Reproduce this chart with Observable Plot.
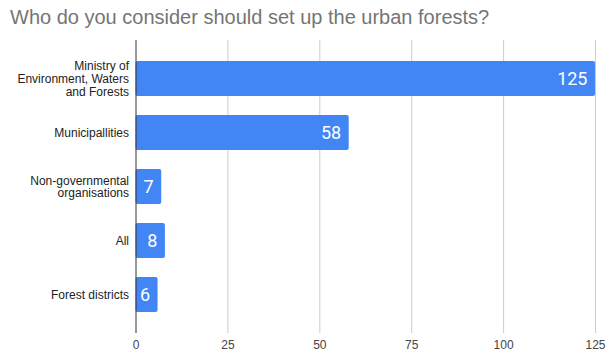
<!DOCTYPE html>
<html><head><meta charset="utf-8">
<script src="https://cdn.jsdelivr.net/npm/d3@7"></script>
<script src="https://cdn.jsdelivr.net/npm/@observablehq/plot@0.6"></script>
<style>
body{margin:0;background:#fff;}
#title{height:34px;box-sizing:border-box;padding:6px 0 0 10px;font-family:"Liberation Sans",Arial,sans-serif;font-size:20px;color:#757575;white-space:nowrap;}
</style></head><body>
<div id="title">Who do you consider should set up the urban forests?</div>
<div id="chart"></div>
<script>
const categories = ["Ministry of\nEnvironment, Waters\nand Forests", "Municipallities", "Non-governmental\norganisations", "All", "Forest districts"];
const values = [125, 58, 7, 8, 6];
const xTicks = [0, 25, 50, 75, 100, 125];

const data = categories.map((c, i) => ({category: c, value: values[i]}));

const chart = Plot.plot({
  width: 606,
  height: 320,
  marginTop: 6,
  marginBottom: 21,
  marginLeft: 135.5,
  marginRight: 11,
  style: {fontFamily: "'Liberation Sans', Arial, sans-serif", fontSize: "12px", color: "#222", background: "#fff"},
  x: {domain: [0, 125], ticks: xTicks, label: null, tickSize: 0, tickPadding: 8, grid: false},
  y: {domain: categories, padding: 0.345, label: null, tickSize: 0, tickPadding: 7},
  marks: [
    Plot.ruleX(xTicks.filter(d => d > 0), {stroke: "#cccccc", strokeWidth: 1}),
    Plot.barX(data, {x: "value", y: "category", fill: "#4285F4", rx: 2}),
    Plot.ruleX([0], {stroke: "#333", strokeWidth: 1}),
    Plot.text(data, {x: "value", y: "category", text: d => String(d.value), textAnchor: "end", dx: -8, fill: "white", fontSize: 18, fontFamily: "Roboto, sans-serif"}),
    Plot.axisY({tickSize: 0, tickPadding: 7, lineHeight: 1.05, fill: "#222"}),
    Plot.axisX({ticks: xTicks, tickSize: 0, tickPadding: 7, fill: "#444"})
  ]
});
document.getElementById("chart").appendChild(chart);
</script>
</body></html>
